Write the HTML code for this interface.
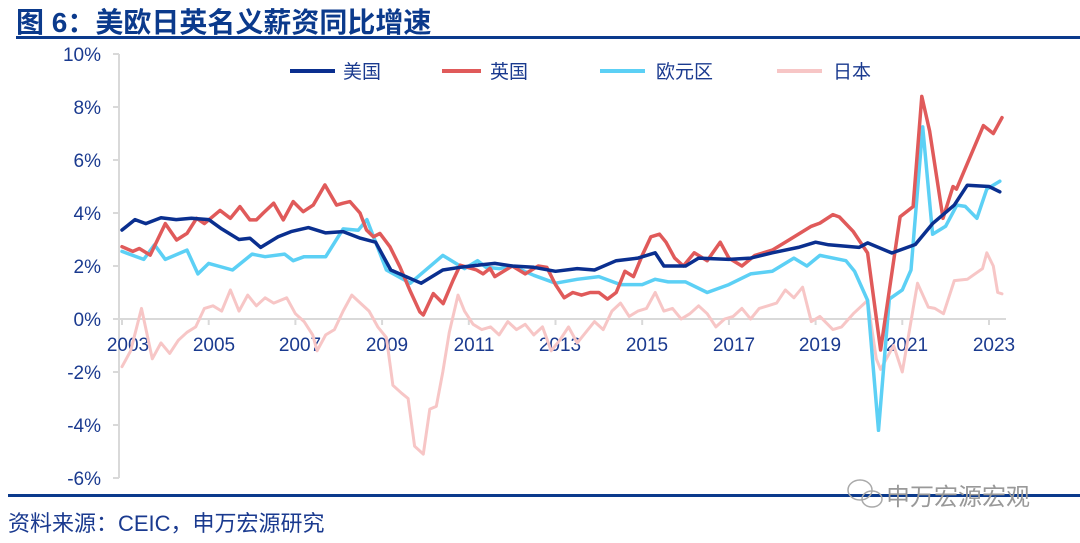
<!DOCTYPE html>
<html><head><meta charset="utf-8"><style>
html,body{margin:0;padding:0;background:#fff;}
body{width:1080px;height:543px;overflow:hidden;position:relative;font-family:"Liberation Sans","Noto Sans CJK SC",sans-serif;}
</style></head><body>
<svg id="s" width="1080" height="543" xmlns="http://www.w3.org/2000/svg" style="position:absolute;left:0;top:0">
<text x="16" y="32" font-size="28" font-weight="bold" fill="#0b3a8c" font-family="'Liberation Sans','Noto Sans CJK SC',sans-serif">图 6：美欧日英名义薪资同比增速</text>
<rect x="16" y="36" width="1064" height="3" fill="#0b3a8c"/>
<rect x="8" y="494" width="1072" height="3" fill="#0b3a8c"/>
<text x="8" y="531" font-size="22" fill="#1a3a8f" font-family="'Liberation Sans','Noto Sans CJK SC',sans-serif">资料来源：CEIC，申万宏源研究</text>
<text x="886" y="505" font-size="24" fill="#999" font-family="'Liberation Sans','Noto Sans CJK SC',sans-serif">申万宏源宏观</text>
<g fill="none" stroke="#aaa" stroke-width="1.5"><ellipse cx="860" cy="490" rx="12" ry="10"/><ellipse cx="872" cy="499" rx="10" ry="8"/></g>
<g stroke="#d9d9d9" stroke-width="2" fill="none">
<line x1="119" y1="54" x2="119" y2="478"/>
<line x1="113" y1="54" x2="119" y2="54"/><line x1="113" y1="107" x2="119" y2="107"/><line x1="113" y1="160" x2="119" y2="160"/><line x1="113" y1="213" x2="119" y2="213"/><line x1="113" y1="266" x2="119" y2="266"/><line x1="113" y1="319" x2="119" y2="319"/><line x1="113" y1="372" x2="119" y2="372"/><line x1="113" y1="425" x2="119" y2="425"/><line x1="113" y1="478" x2="119" y2="478"/>
<line x1="119" y1="319" x2="1006" y2="319"/>
<g id="xt"></g>
</g>
<g font-size="19" fill="#1a3a8f" text-anchor="end">
<text x="101" y="61">10%</text><text x="101" y="114">8%</text><text x="101" y="167">6%</text><text x="101" y="220">4%</text><text x="101" y="273">2%</text><text x="101" y="326">0%</text><text x="101" y="379">-2%</text><text x="101" y="432">-4%</text><text x="101" y="485">-6%</text>
</g>
<g font-size="19" fill="#1a3a8f" text-anchor="middle">
<text x="128" y="351">2003</text><text x="214" y="351">2005</text><text x="300" y="351">2007</text><text x="387" y="351">2009</text><text x="474" y="351">2011</text><text x="560" y="351">2013</text><text x="647" y="351">2015</text><text x="734" y="351">2017</text><text x="820" y="351">2019</text><text x="907" y="351">2021</text><text x="994" y="351">2023</text>
</g>
<g id="series" fill="none" stroke-width="3.5" stroke-linejoin="round" stroke-linecap="round"></g>
<g font-size="19" fill="#1a3a8f" font-family="'Liberation Sans','Noto Sans CJK SC',sans-serif">
<line x1="290" y1="71" x2="335" y2="71" stroke="#0a2f8f" stroke-width="4"/><text x="343" y="78">美国</text>
<line x1="442" y1="71" x2="481" y2="71" stroke="#e05a5a" stroke-width="4"/><text x="490" y="78">英国</text>
<line x1="600" y1="71" x2="645" y2="71" stroke="#5cd0f5" stroke-width="4"/><text x="656" y="78">欧元区</text>
<line x1="777" y1="71" x2="822" y2="71" stroke="#f7c6c6" stroke-width="4"/><text x="833" y="78">日本</text>
</g>
</svg>
<script>
var X=function(t){return 122+(t-2003)*43.35},Y=function(v){return 319-v*26.5};
var xt=document.getElementById('xt');var h='';
for(var y=2003;y<=2023;y+=2){var x=X(y);h+='<line x1="'+x+'" y1="319" x2="'+x+'" y2="325"/>';}
xt.innerHTML=h;
var JP=[2003,-1.8,2003.2,-1.2,2003.45,0.4,2003.7,-1.5,2003.9,-0.9,2004.1,-1.3,2004.3,-0.8,2004.5,-0.5,2004.7,-0.3,2004.9,0.4,2005.1,0.5,2005.3,0.3,2005.5,1.1,2005.7,0.3,2005.9,0.9,2006.1,0.5,2006.3,0.8,2006.5,0.6,2006.8,0.8,2007.0,0.2,2007.2,-0.1,2007.4,-0.6,2007.5,-1.2,2007.7,-0.6,2007.9,-0.4,2008.1,0.3,2008.3,0.9,2008.5,0.6,2008.7,0.3,2008.9,-0.3,2009.1,-0.7,2009.25,-2.5,2009.45,-2.8,2009.6,-3.0,2009.75,-4.8,2009.95,-5.1,2010.1,-3.4,2010.25,-3.3,2010.4,-2.0,2010.55,-0.5,2010.75,0.9,2010.9,0.3,2011.1,-0.2,2011.3,-0.4,2011.5,-0.3,2011.7,-0.6,2011.9,-0.1,2012.1,-0.4,2012.3,-0.2,2012.5,-0.6,2012.7,-0.3,2012.9,-1.2,2013.1,-0.8,2013.3,-0.3,2013.5,-0.9,2013.7,-0.5,2013.9,-0.1,2014.1,-0.4,2014.3,0.3,2014.5,0.6,2014.7,0.1,2014.9,0.3,2015.1,0.4,2015.3,1.0,2015.5,0.3,2015.7,0.4,2015.9,0.0,2016.1,0.2,2016.3,0.5,2016.5,0.2,2016.7,-0.3,2016.9,0.0,2017.1,0.1,2017.3,0.4,2017.5,0.0,2017.7,0.4,2017.9,0.5,2018.1,0.6,2018.3,1.1,2018.5,0.8,2018.7,1.2,2018.9,-0.1,2019.1,0.1,2019.4,-0.4,2019.6,-0.3,2019.87,0.2,2020.2,0.7,2020.4,-1.5,2020.5,-1.9,2020.8,-1.0,2021.0,-2.0,2021.35,1.35,2021.6,0.45,2021.75,0.4,2021.95,0.2,2022.2,1.45,2022.5,1.5,2022.85,1.9,2022.95,2.5,2023.1,2.0,2023.2,1.0,2023.3,0.95];
var EZ=[2003,2.55,2003.5,2.25,2003.75,2.8,2004,2.25,2004.5,2.6,2004.75,1.7,2005,2.1,2005.55,1.85,2006,2.45,2006.3,2.35,2006.75,2.45,2006.95,2.2,2007.2,2.35,2007.7,2.35,2008.1,3.4,2008.45,3.35,2008.65,3.75,2009.1,1.85,2009.65,1.35,2010.4,2.4,2010.9,1.9,2011.2,2.2,2011.4,1.95,2011.7,1.9,2012.0,2.0,2012.5,1.65,2013.0,1.35,2013.5,1.5,2014.0,1.6,2014.5,1.3,2015.0,1.3,2015.3,1.5,2015.6,1.4,2016.0,1.4,2016.5,1.0,2017.0,1.3,2017.5,1.7,2018.0,1.8,2018.5,2.3,2018.8,2.0,2019.1,2.4,2019.7,2.2,2019.9,1.8,2020.2,0.7,2020.45,-4.2,2020.7,0.75,2021.0,1.1,2021.2,1.85,2021.47,7.25,2021.7,3.2,2022.0,3.5,2022.26,4.3,2022.45,4.25,2022.72,3.8,2022.95,4.9,2023.25,5.2];
var UK=[2003,2.73,2003.25,2.55,2003.4,2.66,2003.65,2.41,2004,3.6,2004.26,2.98,2004.5,3.23,2004.72,3.8,2004.9,3.6,2005.26,4.1,2005.5,3.8,2005.72,4.24,2005.95,3.74,2006.1,3.74,2006.26,4.0,2006.5,4.37,2006.72,3.74,2006.95,4.43,2007.18,4.05,2007.41,4.3,2007.68,5.06,2007.95,4.3,2008.1,4.37,2008.26,4.43,2008.49,4.0,2008.64,3.36,2008.8,3.1,2008.95,3.23,2009.18,2.73,2009.41,1.97,2009.64,1.09,2009.87,0.27,2009.95,0.15,2010.18,0.96,2010.41,0.58,2010.64,1.47,2010.8,2.03,2011.18,1.85,2011.33,1.7,2011.49,1.91,2011.6,1.6,2012.0,2.0,2012.3,1.7,2012.6,2.0,2012.8,1.95,2013.0,1.3,2013.2,0.8,2013.4,1.0,2013.6,0.9,2013.8,1.0,2014.0,1.0,2014.2,0.75,2014.4,1.0,2014.6,1.8,2014.8,1.6,2015.0,2.4,2015.2,3.1,2015.4,3.2,2015.55,2.9,2015.75,2.3,2015.95,2.0,2016.2,2.5,2016.5,2.2,2016.8,2.9,2017.0,2.3,2017.3,2.0,2017.6,2.4,2018.0,2.6,2018.3,2.9,2018.6,3.2,2018.9,3.5,2019.1,3.62,2019.4,3.94,2019.55,3.85,2019.87,3.3,2020.2,2.49,2020.5,-1.17,2020.95,3.86,2021.25,4.24,2021.45,8.4,2021.63,7.1,2021.94,3.8,2022.17,5.0,2022.25,4.9,2022.56,6.1,2022.87,7.3,2023.1,7.0,2023.3,7.6];
var US=[2003,3.36,2003.3,3.75,2003.55,3.6,2003.9,3.82,2004.25,3.75,2004.6,3.8,2005.0,3.75,2005.3,3.4,2005.7,3.0,2005.95,3.05,2006.2,2.7,2006.6,3.1,2006.9,3.3,2007.3,3.45,2007.7,3.25,2008.1,3.3,2008.5,3.05,2008.85,2.9,2009.2,1.85,2009.9,1.35,2010.4,1.85,2010.8,1.95,2011.3,2.05,2011.6,2.1,2012.0,2.0,2012.5,1.95,2013.0,1.8,2013.5,1.9,2013.9,1.85,2014.4,2.2,2014.9,2.3,2015.3,2.5,2015.5,2.0,2016.0,2.0,2016.3,2.3,2017.0,2.25,2017.5,2.3,2018.0,2.5,2018.6,2.7,2019.0,2.9,2019.3,2.8,2020.0,2.7,2020.2,2.87,2020.76,2.49,2021.3,2.81,2021.7,3.6,2022.2,4.3,2022.5,5.05,2023.0,5.0,2023.25,4.8];
function p(a,c,w){var d='';for(var i=0;i<a.length;i+=2){d+=(i?'L':'M')+X(a[i]).toFixed(1)+','+Y(a[i+1]).toFixed(1);}return '<path d="'+d+'" stroke="'+c+'"'+(w?' stroke-width="'+w+'"':'')+'/>';}
document.getElementById('series').innerHTML=p(JP,'#f7c6c6',3)+p(EZ,'#5cd0f5')+p(UK,'#e05a5a')+p(US,'#0a2f8f');
</script>
</body></html>
